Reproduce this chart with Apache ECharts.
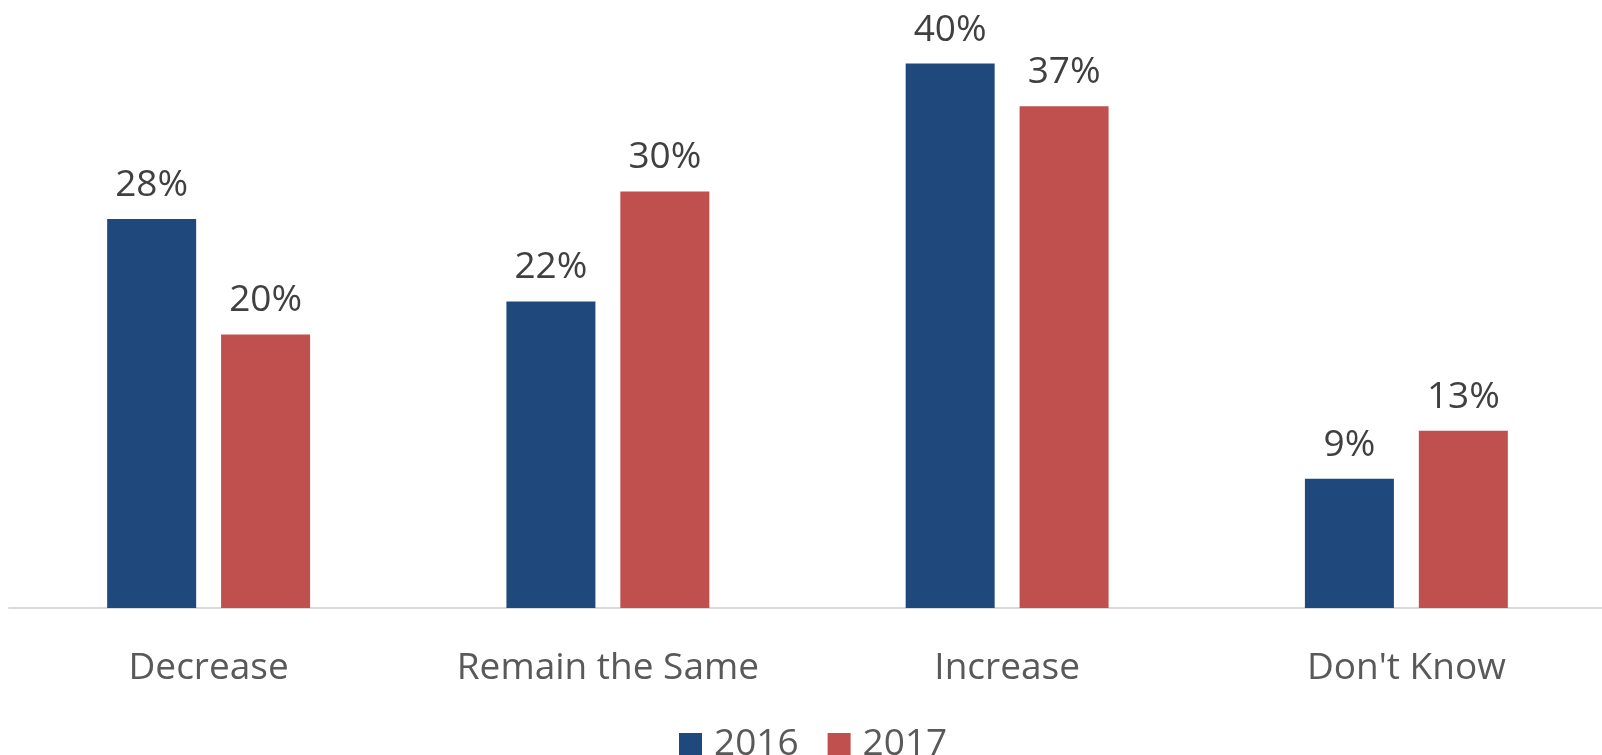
<!DOCTYPE html>
<html>
<head>
<meta charset="utf-8">
<script src="https://cdn.jsdelivr.net/npm/echarts@6/dist/echarts.min.js"></script>
<style>
  html, body { margin: 0; padding: 0; background: #fff; overflow: hidden; }
  #chart { width: 1610px; height: 755px; }
</style>
</head>
<body>
<div id="chart"></div>
<script>
// categories and series values (percent)
const categories = ['Decrease', 'Remain the Same', 'Increase', "Don't Know"];
const values2016 = [28.3, 22.3, 39.6, 9.4];
const values2017 = [19.9, 30.3, 36.5, 12.9];

const FONT = '"Open Sans", "Noto Sans", sans-serif';

const labelStyle = {
  show: true,
  position: 'top',
  distance: 15,
  color: '#404040',
  fontFamily: FONT,
  fontSize: 37,
  formatter: p => Math.round(p.value) + '%'
};

const chart = echarts.init(document.getElementById('chart'));
chart.setOption({
  animation: false,
  grid: { left: 9, right: 4, top: 3, bottom: 147, containLabel: false },
  legend: {
    data: ['2016', '2017'],
    left: 674,
    top: 721,
    icon: 'rect',
    itemWidth: 23,
    itemHeight: 23,
    itemGap: 29,
    textStyle: { color: '#595959', fontFamily: FONT, fontSize: 37, padding: [0, 0, 0, 7] }
  },
  xAxis: {
    type: 'category',
    data: categories,
    axisLine: { lineStyle: { color: '#d9d9d9', width: 2 } },
    axisTick: { show: false },
    axisLabel: { color: '#595959', fontFamily: FONT, fontSize: 37, margin: 42 }
  },
  yAxis: {
    type: 'value',
    min: 0,
    max: 44,
    show: false,
    splitLine: { show: false }
  },
  series: [
    {
      name: '2016',
      type: 'bar',
      data: values2016,
      barWidth: 89,
      barGap: '28%',
      itemStyle: { color: '#1f497d' },
      label: labelStyle
    },
    {
      name: '2017',
      type: 'bar',
      data: values2017,
      barWidth: 89,
      barGap: '28%',
      itemStyle: { color: '#c0504d' },
      label: labelStyle
    }
  ]
});
</script>
</body>
</html>
